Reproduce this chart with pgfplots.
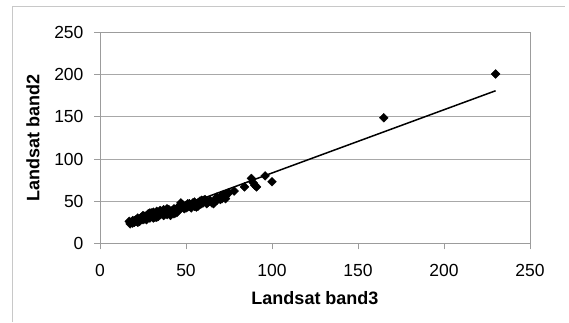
\documentclass[border=0pt]{standalone}
\usepackage{pgfplots}
\pgfplotsset{compat=1.18}
\usepackage{fontspec}
\setmainfont{Liberation Sans}
\definecolor{axgray}{HTML}{9C9C9C}
\definecolor{gridgray}{HTML}{A8A8A8}
\definecolor{framegray}{HTML}{C8C8C8}
\begin{document}
\begin{tikzpicture}
\path[use as bounding box] (0pt,0pt) rectangle (569pt,322pt);
\draw[framegray, line width=1pt] (12pt,0pt) -- (12pt,315pt) -- (565pt,315pt);
\begin{axis}[
  at={(100pt,78.7pt)}, anchor=south west,
  width=430pt, height=210.6pt, scale only axis,
  xmin=0, xmax=250, ymin=0, ymax=250,
  xtick={0,50,...,250}, ytick={0,50,...,250},
  axis line style={axgray, line width=1pt},
  ymajorgrids=true, major grid style={gridgray, line width=1pt},
  tick align=outside, major tick length=6pt,
  xtick pos=bottom, ytick pos=left,
  tick style={axgray, line width=1pt},
  /pgf/number format/assume math mode=true,
  ticklabel style={font=\fontsize{17.5}{20}\selectfont},
  xticklabel style={yshift=-11pt},
  yticklabel style={xshift=-7pt},
  xlabel={\textbf{Landsat band3}}, ylabel={\textbf{Landsat band2}},
  label style={font=\fontsize{18}{21}\selectfont},
  xlabel style={at={(axis description cs:0.5,-0.26)}, anchor=center},
  ylabel style={at={(axis description cs:-0.156,0.5)}, anchor=center},
  clip=false,
]
\addplot[only marks, mark=square*, mark size=3.1pt, black,
  every mark/.append style={rotate=45}] coordinates {
(17,26) (17.5,23) (18,25) (19,24) (20,27) (20,25) (21,28) (21,26)
(22,30) (22,27) (23,28) (23,26) (24,29) (24,31) (25,30) (25,28)
(26,32) (26,29) (27,33) (27,30) (28,31) (28,35) (29,33) (29,30)
(30,36) (30,32) (30,34) (31,37) (31,33) (32,35) (32,31) (33,38)
(33,34) (34,36) (34,32) (35,37) (35,34) (36,35) (36,38) (37,36)
(37,33) (38,39) (38,35) (39,37) (39,34) (40,40) (40,36) (41,38)
(41,35) (42,39) (42,37) (43,41) (43,38) (44,40) (44,36) (45,42)
(45,39) (46,44) (46,40) (47,48) (47,45) (47,42) (48,46) (48,43)
(49,44) (50,42) (50,45) (51,43) (52,47) (52,44) (53,46) (53,42)
(54,48) (54,45) (55,49) (55,44) (56,47) (56,43) (57,48) (58,46)
(58,50) (59,47) (60,51) (60,48) (61,52) (62,50) (63,49) (64,51)
(65,48) (66,50) (67,52) (68,51) (69,53) (70,55) (70,52) (71,57)
(71,53) (72,58) (72,55) (73,56) (74,59) (75,60) (78,62) (84,67)
(88,77) (89,72) (90,69) (91,67) (96,80) (100,73) (165,149) (230,201)
(19,27) (22,25) (25,33) (27,28) (29,36) (31,30) (33,31) (35,39)
(37,40) (39,41) (41,33) (43,35) (45,37) (49,41) (51,47) (57,44)
(59,51) (62,47) (66,47) (68,55) (73,53)
};
\addplot[black, line width=1.5pt, no marks] coordinates {(17,21.1) (230,181.1)};
\end{axis}
\end{tikzpicture}
\end{document}
